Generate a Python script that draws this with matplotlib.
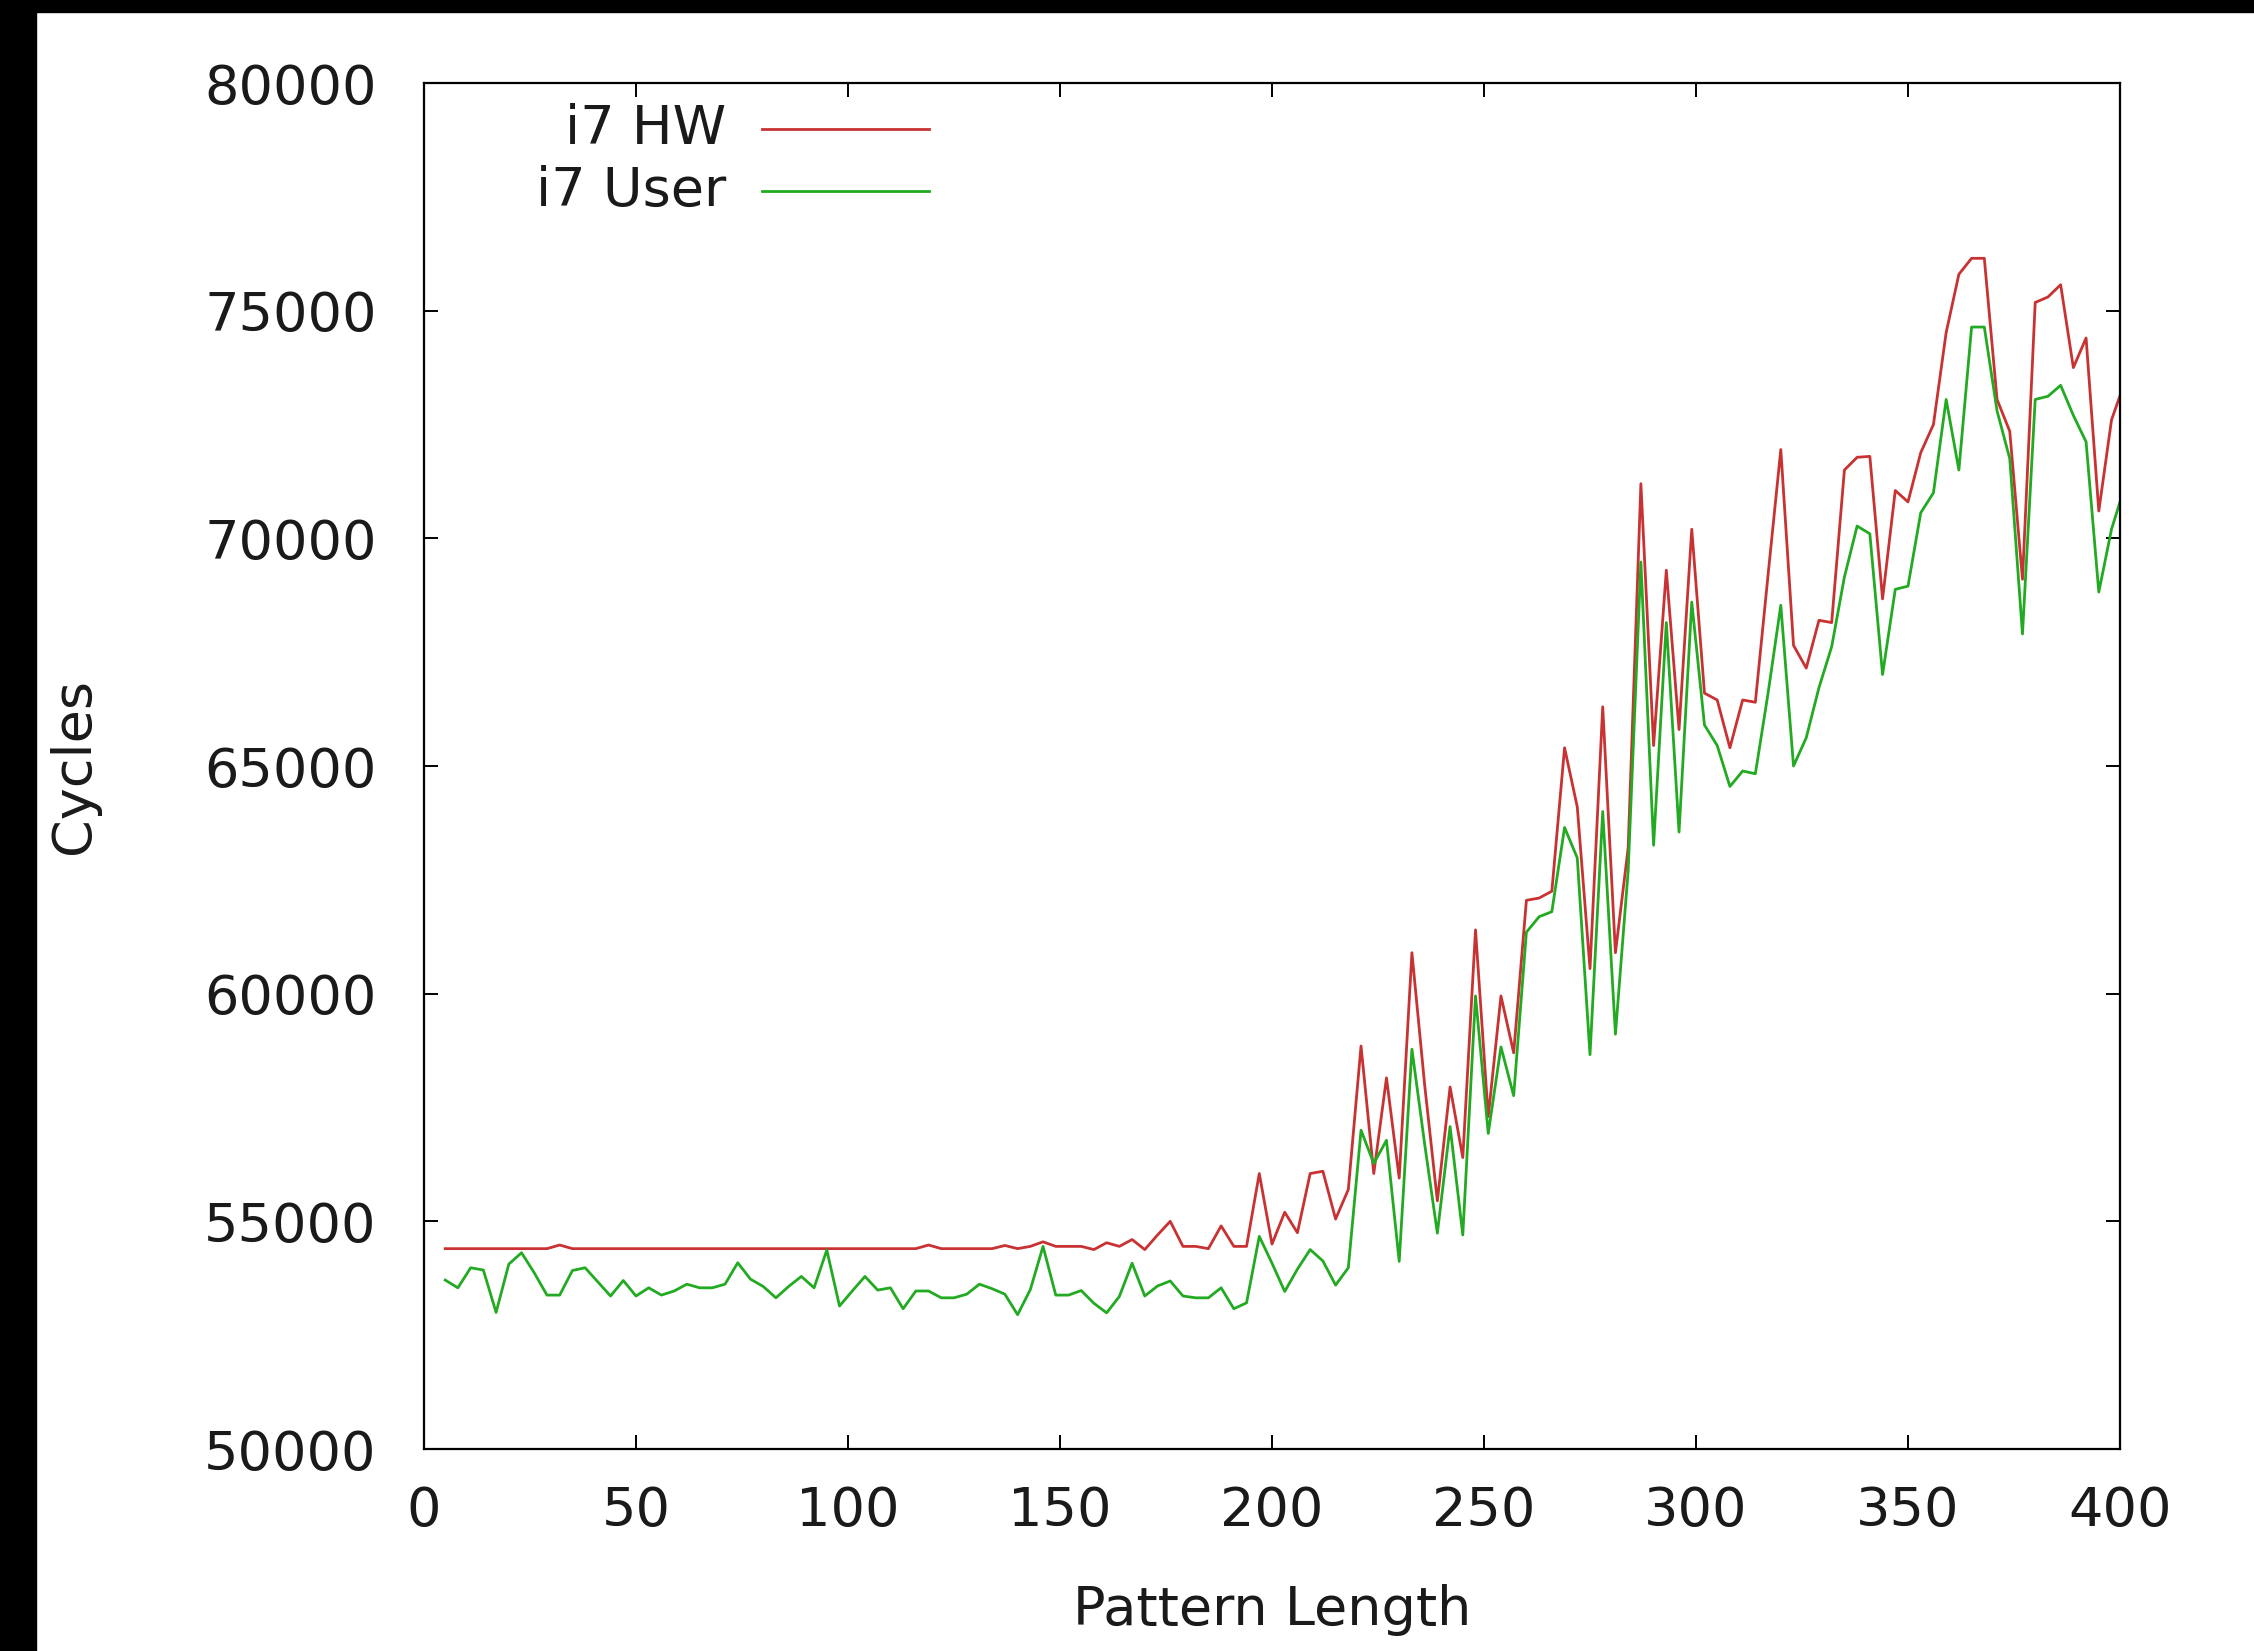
import numpy as np
import matplotlib
matplotlib.use('Agg')
from matplotlib import pyplot as plt
from matplotlib.patches import Rectangle

# pattern lengths 5, 8, ..., 401 (last point clipped at 400)
pattern_len = np.arange(5, 402, 3)

hw_cycles = [
    54400, 54400, 54400, 54400, 54400, 54400, 54400, 54400, 54400, 54480,
    54400, 54400, 54400, 54400, 54400, 54400, 54400, 54400, 54400, 54400,
    54400, 54400, 54400, 54400, 54400, 54400, 54400, 54400, 54400, 54400,
    54400, 54400, 54400, 54400, 54400, 54400, 54400, 54400, 54480, 54400,
    54400, 54400, 54400, 54400, 54470, 54400, 54450, 54550, 54450, 54450,
    54450, 54380, 54530, 54450, 54600, 54380, 54700, 55000, 54450, 54450,
    54400, 54900, 54450, 54450, 56050, 54500, 55200, 54750, 56050, 56100,
    55050, 55700, 58850, 56050, 58150, 55950, 60900, 58000, 55450, 57950,
    56400, 61400, 57300, 59950, 58700, 62050, 62100, 62250, 65400, 64100,
    60550, 66300, 60900, 63200, 71200, 65450, 69300, 65800, 70200, 66600,
    66450, 65400, 66450, 66400, 69200, 71950, 67650, 67150, 68200, 68150,
    71500, 71780, 71800, 68670, 71050, 70800, 71880, 72500, 74520, 75800,
    76150, 76150, 73050, 72350, 69100, 75180, 75300, 75570, 73750, 74400,
    70600, 72600, 73400,
]

user_cycles = [
    53710, 53540, 53980, 53930, 53000, 54060, 54310, 53870, 53380, 53380,
    53920, 53980, 53670, 53360, 53700, 53360, 53540, 53380, 53470, 53620,
    53540, 53540, 53620, 54090, 53730, 53570, 53320, 53570, 53790, 53540,
    54370, 53140, 53470, 53790, 53490, 53540, 53080, 53470, 53470, 53320,
    53320, 53400, 53620, 53520, 53400, 52950, 53500, 54450, 53380, 53380,
    53480, 53200, 52990, 53350, 54080, 53360, 53580, 53690, 53360, 53320,
    53320, 53540, 53080, 53210, 54670, 54080, 53460, 53950, 54380, 54130,
    53600, 53980, 57000, 56270, 56780, 54120, 58780, 56700, 54740, 57080,
    54700, 59950, 56930, 58830, 57760, 61350, 61690, 61800, 63650, 62980,
    58660, 64000, 59110, 62700, 69480, 63260, 68150, 63550, 68600, 65900,
    65450, 64550, 64890, 64830, 66600, 68530, 65000, 65620, 66720, 67620,
    69150, 70270, 70100, 67010, 68880, 68950, 70560, 71000, 73050, 71500,
    74640, 74640, 72800, 71750, 67900, 73050, 73120, 73360, 72700, 72120,
    68820, 70200, 71100,
]

series_names = ['i7 HW', 'i7 User']
series_colors = ['#c83232', '#22aa22']

x_ticks = np.arange(0, 401, 50)
y_ticks = np.arange(50000, 80001, 5000)

plt.rcParams['font.family'] = ['DejaVu Sans']
fs = 39
txt_col = '#1a1a1a'

fig = plt.figure(figsize=(22.54, 16.51), dpi=100)
ax = fig.add_axes([424 / 2254, 1 - 1449 / 1651, 1696 / 2254, 1366 / 1651])

for vals, name, col in zip([hw_cycles, user_cycles], series_names, series_colors):
    ax.plot(pattern_len, vals, color=col, lw=2.0, label=name, clip_on=True)

ax.set_xlim(0, 400)
ax.set_ylim(50000, 80000)
ax.set_xticks(x_ticks)
ax.set_yticks(y_ticks)
ax.tick_params(direction='in', top=True, right=True, length=10, width=1.4,
               labelsize=fs, colors='black', labelcolor=txt_col)
ax.tick_params(axis='y', pad=34)
ax.tick_params(axis='x', pad=26)
for s in ax.spines.values():
    s.set_linewidth(1.6)

ax.set_xlabel('Pattern Length', fontsize=fs, color=txt_col)
ax.set_ylabel('Cycles', fontsize=fs, color=txt_col)
ax.xaxis.set_label_coords(0.5, -0.099)
ax.yaxis.set_label_coords(-0.191, 0.5)

# gnuplot-style key: right-aligned text followed by a line sample
key_y = [0.966, 0.921]
for name, col, ky in zip(series_names, series_colors, key_y):
    ax.text(0.178, ky, name, transform=ax.transAxes, ha='right', va='center',
            fontsize=fs, color=txt_col)
    ax.plot([0.199, 0.298], [ky, ky], transform=ax.transAxes, color=col, lw=2.0)

# black frame on left and top edge of the screenshot
fig.patches.append(Rectangle((0, 0), 36 / 2254, 1, transform=fig.transFigure,
                             color='black', zorder=10))
fig.patches.append(Rectangle((0, 1 - 12 / 1651), 1, 12 / 1651,
                             transform=fig.transFigure, color='black', zorder=10))

fig.savefig('out.png', dpi=100, facecolor='white')
